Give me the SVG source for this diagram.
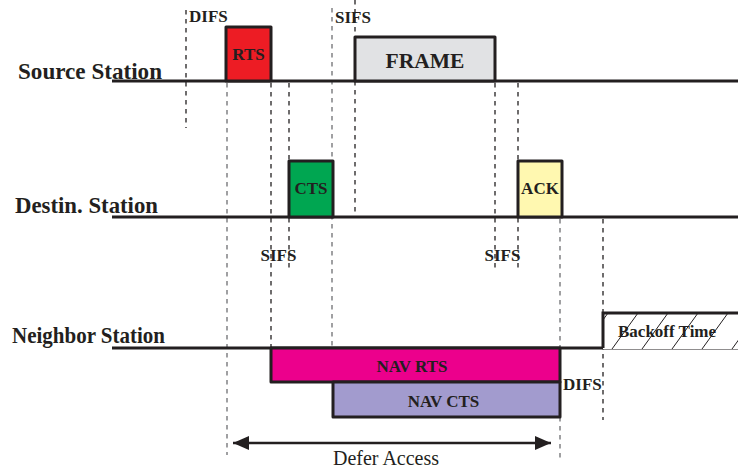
<svg xmlns="http://www.w3.org/2000/svg" width="738" height="470" viewBox="0 0 738 470">
<style>
.lbl{font-family:"Liberation Serif","Times New Roman",serif;font-weight:bold;fill:#231F20}
.st{font-size:23.5px}
.sm{font-size:17px}
.tl{stroke:#231F20;stroke-width:3;fill:none}
.box{stroke:#231F20;stroke-width:3;stroke-linejoin:round}
.d{stroke:#231F20;stroke-width:1.3;stroke-dasharray:4.5 4.5;fill:none}
.g{stroke:#6d6e71}
.hatch{stroke:#231F20;stroke-width:1}
</style>
<defs>
<marker id="ah" viewBox="0 0 16 14" refX="16" refY="7" markerWidth="16" markerHeight="14" markerUnits="userSpaceOnUse" orient="auto-start-reverse">
<path d="M0,0 L16,7 L0,14 Z" fill="#231F20"/>
</marker>
<clipPath id="bc"><rect x="603" y="313" width="135" height="36"/></clipPath>
</defs>
<rect width="738" height="470" fill="#fff"/>
<g id="connectors">
<line class="d" x1="186" y1="10" x2="186" y2="128"/>
<line class="d g" x1="227" y1="83" x2="227" y2="455"/>
<line class="d" x1="271" y1="83" x2="271" y2="348"/>
<line class="d" x1="289" y1="83" x2="289" y2="268"/>
<line class="d g" x1="332" y1="8" x2="332" y2="382"/>
<line class="d" x1="355" y1="0" x2="355" y2="217"/>
<line class="d" x1="495" y1="83" x2="495" y2="268"/>
<line class="d" x1="518" y1="83" x2="518" y2="268"/>
<line class="d g" x1="560" y1="219" x2="560" y2="460"/>
<line class="d" x1="603" y1="219" x2="603" y2="420"/>
<line x1="233" y1="443" x2="551" y2="443" stroke="#231F20" stroke-width="2.5" marker-start="url(#ah)" marker-end="url(#ah)"/>
</g>
<g id="source">
<line class="tl" x1="112" y1="81" x2="738" y2="81"/>
<text class="lbl st" x="18" y="79" textLength="144" lengthAdjust="spacingAndGlyphs">Source Station</text>
</g>
<g id="destination">
<line class="tl" x1="112" y1="217" x2="738" y2="217"/>
<text class="lbl st" x="15" y="213" textLength="143" lengthAdjust="spacingAndGlyphs">Destin. Station</text>
</g>
<g id="neighbor">
<line class="tl" x1="112" y1="348" x2="738" y2="348"/>
<text class="lbl st" x="12" y="343" textLength="153" lengthAdjust="spacingAndGlyphs">Neighbor Station</text>
</g>
<g id="difs-top"><text class="lbl sm" x="189" y="22">DIFS</text></g>
<g id="sifs-top"><text class="lbl sm" x="335" y="23">SIFS</text></g>
<g id="rts">
<rect class="box" x="226" y="27" width="45" height="54" fill="#ED1C24"/>
<text class="lbl sm" x="248.5" y="60" text-anchor="middle">RTS</text>
</g>
<g id="frame">
<rect class="box" x="355" y="37" width="140" height="44" fill="#E1E2E4"/>
<text class="lbl" font-size="21.5" x="425" y="68" text-anchor="middle">FRAME</text>
</g>
<g id="cts">
<rect class="box" x="289" y="161" width="44" height="56" fill="#00A651"/>
<text class="lbl sm" x="311" y="194" text-anchor="middle">CTS</text>
</g>
<g id="ack">
<rect class="box" x="518" y="161" width="44" height="56" fill="#FFF8B0"/>
<text class="lbl sm" x="540" y="194" text-anchor="middle">ACK</text>
</g>
<g id="sifs-1"><text class="lbl sm" x="278.5" y="261" text-anchor="middle">SIFS</text></g>
<g id="sifs-2"><text class="lbl sm" x="502.5" y="261" text-anchor="middle">SIFS</text></g>
<g id="nav-rts">
<rect class="box" x="271" y="348" width="289" height="34" fill="#EC008C"/>
<text class="lbl sm" x="412" y="372" text-anchor="middle">NAV RTS</text>
</g>
<g id="nav-cts">
<rect class="box" x="333" y="382" width="227" height="35" fill="#A29BCE"/>
<text class="lbl sm" x="443.5" y="407" text-anchor="middle">NAV CTS</text>
</g>
<g id="difs-right"><text class="lbl sm" x="563" y="390">DIFS</text></g>
<g id="backoff">
<rect x="603" y="313" width="140" height="36" fill="#fff"/>
<g clip-path="url(#bc)" class="hatch">
<line x1="582" y1="349" x2="608" y2="313"/>
<line x1="612" y1="349" x2="638" y2="313"/>
<line x1="642" y1="349" x2="668" y2="313"/>
<line x1="672" y1="349" x2="698" y2="313"/>
<line x1="702" y1="349" x2="728" y2="313"/>
<line x1="732" y1="349" x2="758" y2="313"/>
</g>
<path class="tl" d="M603,348 L603,313 L738,313"/>
<text class="lbl sm" x="618" y="337">Backoff Time</text>
</g>
<g id="defer"><text font-family="Liberation Serif,Times New Roman,serif" font-size="20" fill="#231F20" x="386" y="465" text-anchor="middle">Defer Access</text></g>
</svg>
